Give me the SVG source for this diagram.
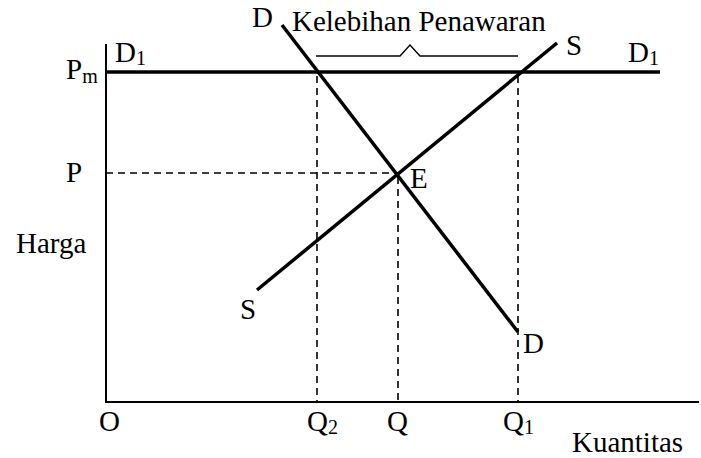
<svg xmlns="http://www.w3.org/2000/svg" width="701" height="458" viewBox="0 0 701 458">
<style>
text{font-family:"Liberation Serif","Times New Roman",serif;font-size:29px;fill:#000}
.sub{font-size:20px}
.axis{stroke:#000;stroke-width:2;fill:none}
.curve{stroke:#000;stroke-width:3.5;fill:none;stroke-linecap:butt}
.dash{stroke:#000;stroke-width:1.6;stroke-dasharray:7,5;fill:none}
.brace{stroke:#000;stroke-width:1.4;fill:none}
</style>
<rect width="701" height="458" fill="#fff"/>
<g id="connectors">
<path class="axis" d="M106,44 V402 H699"/>
<path class="dash" d="M106,173 H397"/>
<path class="dash" d="M398,177 V402"/>
<path class="dash" d="M317,76 V402"/>
<path class="dash" d="M518,76 V402"/>
<path class="curve" d="M106,72 H660"/>
<path class="curve" d="M282,25 L518,332"/>
<path class="curve" d="M257,290 L557,43"/>
<path class="brace" d="M316,56 H400 L410,45 L420,56 H518"/>
</g>
<g id="labels">
<text x="66" y="79" font-size="24">P<tspan class="sub" dy="4">m</tspan></text>
<text x="115" y="62">D<tspan class="sub" dy="3">1</tspan></text>
<text x="628" y="62">D<tspan class="sub" dy="3">1</tspan></text>
<text x="252" y="27">D</text>
<text x="292" y="31" font-size="28">Kelebihan Penawaran</text>
<text x="566" y="55">S</text>
<text x="66" y="182">P</text>
<text x="16" y="253">Harga</text>
<text x="410" y="188">E</text>
<text x="240" y="319">S</text>
<text x="523" y="353">D</text>
<text x="99" y="431">O</text>
<text x="307" y="431">Q<tspan class="sub" dy="3">2</tspan></text>
<text x="387" y="431">Q</text>
<text x="503" y="431">Q<tspan class="sub" dy="3">1</tspan></text>
<text x="572" y="452">Kuantitas</text>
</g>
</svg>
